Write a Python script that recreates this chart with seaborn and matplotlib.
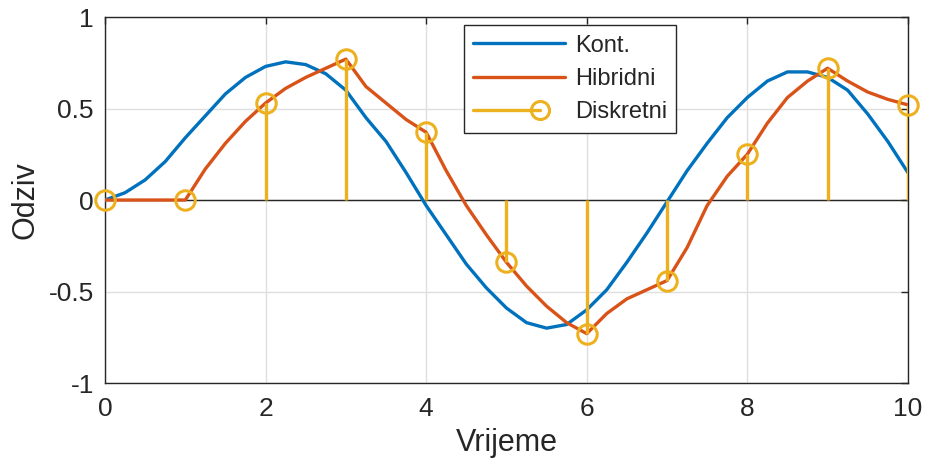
import numpy as np
import matplotlib
matplotlib.use("Agg")
import matplotlib.pyplot as plt
import seaborn as sns
from matplotlib.lines import Line2D
from matplotlib.legend_handler import HandlerBase

# time grids
t_fine = np.linspace(0, 10, 41)
t_disc = [0, 1, 2, 3, 4, 5, 6, 7, 8, 9, 10]

# continuous response
y_cont = [0.00, 0.04, 0.11, 0.21, 0.34, 0.46, 0.58, 0.67, 0.73, 0.755,
          0.74, 0.69, 0.60, 0.45, 0.32, 0.15, -0.03, -0.19, -0.35, -0.48,
          -0.59, -0.67, -0.70, -0.68, -0.60, -0.49, -0.34, -0.18, -0.01, 0.16,
          0.31, 0.45, 0.56, 0.65, 0.70, 0.70, 0.67, 0.60, 0.47, 0.32, 0.15]

# hybrid response
y_hyb = [0.00, 0.00, 0.00, 0.00, 0.00, 0.17, 0.31, 0.43, 0.53, 0.61,
         0.67, 0.72, 0.77, 0.62, 0.53, 0.44, 0.37, 0.16, -0.03, -0.19,
         -0.34, -0.47, -0.58, -0.67, -0.73, -0.62, -0.54, -0.49, -0.44, -0.26,
         -0.03, 0.13, 0.25, 0.42, 0.56, 0.65, 0.72, 0.65, 0.59, 0.55, 0.52]

# discrete samples
y_disc = [0.00, 0.00, 0.53, 0.77, 0.37, -0.34, -0.73, -0.44, 0.25, 0.72, 0.52]

labels = ["Kont.", "Hibridni", "Diskretni"]
c_blue, c_orange, c_yellow = "#0072BD", "#D95319", "#EDB120"


class StemHandler(HandlerBase):
    # line with an open circle near its right end, like MATLAB's stem legend
    def create_artists(self, legend, orig, xd, yd, width, height, fontsize, trans):
        y = height / 2 - yd
        x0, x1 = -xd, -xd + width * 0.72
        ln = Line2D([x0, x1], [y, y], color=c_yellow, lw=2.4, transform=trans)
        mk = Line2D([x1], [y], marker="o", ms=13, mfc="none", mec=c_yellow,
                    mew=2.2, ls="none", transform=trans)
        return [ln, mk]


sns.set_style("white")
plt.rcParams["font.family"] = ["Liberation Sans", "DejaVu Sans"]
txt = "#262626"

fig = plt.figure(figsize=(9.25, 4.66), dpi=100)
ax = fig.add_axes([0.1135, 0.178, 0.868, 0.7855])

sns.lineplot(x=t_fine, y=y_cont, ax=ax, color=c_blue, lw=2.4, zorder=3)
sns.lineplot(x=t_fine, y=y_hyb, ax=ax, color=c_orange, lw=2.4, zorder=4)

# stem plot
ax.axhline(0, color="#262626", lw=1.0, zorder=2)
ax.vlines(t_disc, 0, y_disc, color=c_yellow, lw=2.4, zorder=5)
ax.plot(t_disc, y_disc, ls="none", marker="o", ms=14, mfc="none",
        mec=c_yellow, mew=2.2, zorder=6, clip_on=False)

ax.set_xlim(0, 10)
ax.set_ylim(-1, 1)
ax.set_xticks([0, 2, 4, 6, 8, 10])
ax.set_yticks([-1, -0.5, 0, 0.5, 1])
ax.set_yticklabels(["-1", "-0.5", "0", "0.5", "1"])
ax.grid(True, color="#dfdfdf", lw=1.0)
ax.set_axisbelow(True)
ax.tick_params(direction="in", top=True, right=True, length=5, width=1,
               labelsize=19, colors=txt)
ax.tick_params(axis="x", pad=10)
ax.tick_params(axis="y", pad=8)
for s in ax.spines.values():
    s.set_color(txt)
    s.set_linewidth(1.0)
ax.set_xlabel("Vrijeme", fontsize=22, color=txt, labelpad=5)
ax.set_ylabel("Odziv", fontsize=22, color=txt, labelpad=6)

h_cont = Line2D([], [], color=c_blue, lw=2.4)
h_hyb = Line2D([], [], color=c_orange, lw=2.4)
h_disc = Line2D([], [], color=c_yellow)
leg = ax.legend([h_cont, h_hyb, h_disc], labels,
                handler_map={h_disc: StemHandler()},
                loc="upper left", bbox_to_anchor=(0.447, 0.978),
                fontsize=17, frameon=True, fancybox=False, framealpha=1,
                edgecolor=txt, handlelength=3.9, handletextpad=0.4,
                borderpad=0.4, labelspacing=0.48, borderaxespad=0)
leg.get_frame().set_linewidth(1.0)

fig.savefig("out.png", dpi=100)
